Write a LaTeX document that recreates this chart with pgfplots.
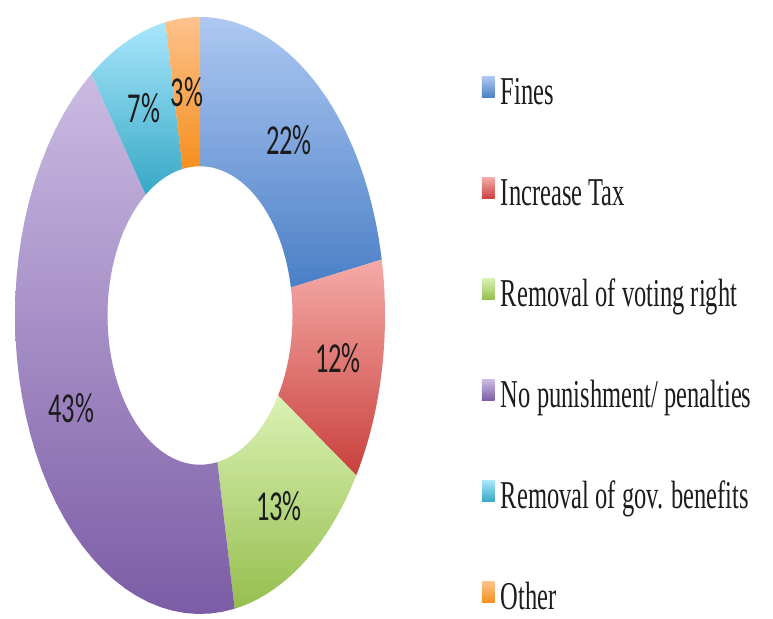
\documentclass[border=0pt]{standalone}
\usepackage{pgfplots}
\pgfplotsset{compat=1.18}
\usepackage{fontspec}
\setmainfont{Liberation Serif}
\newfontfamily\pctfont{Carlito}
\definecolor{bT}{HTML}{AEC8F2}\definecolor{bB}{HTML}{4A7FC6}
\definecolor{rT}{HTML}{F5ABA8}\definecolor{rB}{HTML}{C9403C}
\definecolor{gT}{HTML}{DAF2B4}\definecolor{gB}{HTML}{95BE4E}
\definecolor{pT}{HTML}{CBBBE2}\definecolor{pB}{HTML}{7B5CA6}
\definecolor{cT}{HTML}{A8E6FB}\definecolor{cB}{HTML}{37A8C6}
\definecolor{oT}{HTML}{FDC28C}\definecolor{oB}{HTML}{F68F1E}
\definecolor{txt}{HTML}{1C1C1C}
% ring segment: outer radius 1 for t in [0,1], inner radius 0.5 for t in [2,3]
\pgfmathdeclarefunction{segr}{1}{\pgfmathparse{ifthenelse(#1<1.5,1,0.5)}}
\pgfmathdeclarefunction{segth}{3}{\pgfmathparse{ifthenelse(#1<1.5,#2+(#3-#2)*#1,#3-(#3-#2)*(#1-2))}}
\begin{document}
\begin{tikzpicture}
\begin{axis}[
  scale only axis, width=773pt, height=618pt,
  xmin=-1.0811, xmax=3.0973, ymin=-1.0134, ymax=1.0570,
  hide axis, clip=false,
  samples at={0,0.025,...,0.975,1,2,2.025,...,2.975,3},
  legend style={draw=none, fill=none, at={(rel axis cs:0.6235,0.8770)}, anchor=north west,
    inner sep=0pt, outer sep=0pt, row sep=64pt, column sep=0pt,
    font=\fontsize{24.5}{29}\selectfont, text=txt,
    nodes={inner sep=0pt, outer sep=0pt, text height=28pt, text depth=9pt}},
  legend cell align=left,
  legend image code/.code={\path[#1, draw=none] (0pt,-3pt) rectangle (12.7pt,18pt);},
]
\path (rel axis cs:0,0) rectangle (rel axis cs:1,1);
% values: Fines 22, Increase Tax 12, Removal of voting right 13, No punishment 43, Removal of gov. benefits 7, Other 3
% angles start at 90 deg, clockwise, 3.6 deg per percent
\addplot[draw=none, top color=bT, bottom color=bB] ({segr(x)*cos(segth(x,90,10.8))},{segr(x)*sin(segth(x,90,10.8))});
\addlegendentry{\hspace{6.3pt}\scalebox{1}[1.61]{Fines}}
\addplot[draw=none, top color=rT, bottom color=rB] ({segr(x)*cos(segth(x,10.8,-32.4))},{segr(x)*sin(segth(x,10.8,-32.4))});
\addlegendentry{\hspace{6.3pt}\scalebox{1}[1.61]{Increase Tax}}
\addplot[draw=none, top color=gT, bottom color=gB] ({segr(x)*cos(segth(x,-32.4,-79.2))},{segr(x)*sin(segth(x,-32.4,-79.2))});
\addlegendentry{\hspace{6.3pt}\scalebox{1}[1.61]{Removal of voting right}}
\addplot[draw=none, top color=pT, bottom color=pB] ({segr(x)*cos(segth(x,-79.2,-234))},{segr(x)*sin(segth(x,-79.2,-234))});
\addlegendentry{\hspace{6.3pt}\scalebox{1}[1.61]{No punishment/ penalties}}
\addplot[draw=none, top color=cT, bottom color=cB] ({segr(x)*cos(segth(x,-234,-259.2))},{segr(x)*sin(segth(x,-234,-259.2))});
\addlegendentry{\hspace{6.3pt}\scalebox{1}[1.61]{Removal of gov. benefits}}
\addplot[draw=none, top color=oT, bottom color=oB] ({segr(x)*cos(segth(x,-259.2,-270))},{segr(x)*sin(segth(x,-259.2,-270))});
\addlegendentry{\hspace{6.3pt}\scalebox{1}[1.61]{Other}}
\begin{scope}[every node/.style={font=\pctfont\fontsize{26.5}{30}\selectfont, text=txt, inner sep=0pt}]
\node at (axis cs:0.481,0.588) {\scalebox{1}[1.61]{22\%}};
\node at (axis cs:0.746,-0.142) {\scalebox{1}[1.61]{12\%}};
\node at (axis cs:0.427,-0.638) {\scalebox{1}[1.61]{13\%}};
\node at (axis cs:-0.697,-0.310) {\scalebox{1}[1.61]{43\%}};
\node at (axis cs:-0.303,0.695) {\scalebox{1}[1.61]{7\%}};
\node at (axis cs:-0.070,0.749) {\scalebox{1}[1.61]{3\%}};
\end{scope}
\end{axis}
\end{tikzpicture}
\end{document}
